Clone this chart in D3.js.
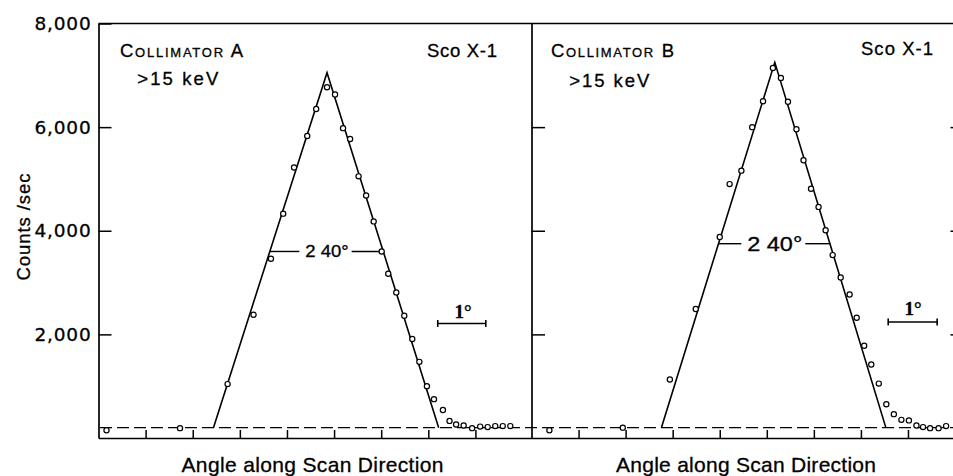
<!DOCTYPE html>
<html><head><meta charset="utf-8">
<script src="https://cdn.jsdelivr.net/npm/d3@7"></script>
<style>body{margin:0;background:#fff}svg{display:block}svg text{stroke:#000;stroke-width:0.3px}</style>
</head><body>
<script>
// ---------- data ----------
const countTicks = [2000, 4000, 6000, 8000];
const innerCountTicks = [2000, 4000, 6000];
const angleTicks = [1, 2, 3, 4, 5, 6, 7, 8];
const baselineCounts = 200;

// Collimator A (angle in degrees along scan, counts/sec)
const leftAngle  = [0.17,1.73,2.74,3.29,3.66,3.92,4.15,4.43,4.62,4.85,5.02,5.19,5.34,5.52,5.68,5.84,6.01,6.15,6.32,6.49,6.66,6.81,6.97,7.12,7.31,7.45,7.59,7.75,7.93,8.10,8.26,8.42,8.58,8.74];
const leftCounts = [150,190,1040,2380,3460,4330,5220,5830,6350,6770,6630,5980,5770,5050,4680,4180,3600,3170,2810,2360,1910,1470,1000,750,540,330,260,240,190,220,210,230,230,230];

// Collimator B
const rightAngle  = [0.38,1.94,2.94,3.49,4.00,4.21,4.46,4.69,4.92,5.13,5.30,5.45,5.63,5.78,5.94,6.10,6.25,6.40,6.57,6.76,6.91,7.07,7.22,7.38,7.54,7.70,7.86,8.02,8.18,8.32,8.47,8.65,8.81];
const rightCounts = [150,200,1130,2490,3880,4900,5160,6000,6500,7140,6950,6490,5960,5360,4810,4460,4010,3530,3100,2770,2320,1780,1420,1050,650,460,350,340,240,210,190,190,230];

// fitted triangular responses
const leftFitAngle   = [2.44, 4.85, 7.22];
const leftFitCounts  = [200, 7050, 200];
const rightFitAngle  = [2.76, 5.17, 7.53];
const rightFitCounts = [200, 7250, 200];

// FWHM annotations
const halfMaxCounts = [3600, 3750];
const halfMaxFrom   = [3.64, 3.97];
const halfMaxTo     = [6.04, 6.33];
const halfMaxLabel  = "2 40°";

// 1-degree scale bars
const scaleBarFrom   = [7.20, 7.58];
const scaleBarTo     = [8.22, 8.62];
const scaleBarCounts = [2210, 2240];
const scaleBarLabel  = "1°";

const panelTitles = ["Collimator A", "Collimator B"];
const energyLabel = ">15 keV";
const sourceLabel = "Sco X-1";
const xTitle = "Angle along Scan Direction";
const yTitle = "Counts /sec";

// ---------- layout ----------
const W = 953, H = 476;
const svg = d3.select("body").append("svg").attr("width", W).attr("height", H)
  .style("font-family", "'Liberation Sans', Arial, sans-serif");

const y = d3.scaleLinear([0, 8000], [438, 23.5]);
const xL = d3.scaleLinear([0, 9.19], [98.5, 531.5]);
const xR = d3.scaleLinear([0, 9.01], [531.5, 955.5]);

const axisStyle = g => {
  g.selectAll("path.domain").attr("stroke", "#000").attr("stroke-width", 1.7);
  g.selectAll(".tick line").attr("stroke", "#000").attr("stroke-width", 1.5);
};

// top border
svg.append("line").attr("x1", 98.5).attr("x2", W).attr("y1", y(8000)).attr("y2", y(8000))
  .attr("stroke", "#000").attr("stroke-width", 1.7);

// left y axis
svg.append("g").attr("transform", "translate(98.5,0)")
  .call(d3.axisLeft(y).tickValues(countTicks).tickSize(-13).tickSizeOuter(0).tickPadding(7).tickFormat(d3.format(",")))
  .call(axisStyle)
  .call(g => g.selectAll("text").attr("fill", "#000").attr("font-size", 18.5)
      .attr("font-family", "'DejaVu Sans', sans-serif").attr("letter-spacing", 0.8));

// divider axis
svg.append("g").attr("transform", "translate(531.5,0)")
  .call(d3.axisRight(y).tickValues(innerCountTicks).tickSize(13.5).tickSizeOuter(0).tickFormat(""))
  .call(axisStyle);

// right edge axis (mostly outside frame)
svg.append("g").attr("transform", "translate(955.5,0)")
  .call(d3.axisLeft(y).tickValues(innerCountTicks).tickSize(5).tickSizeOuter(0).tickFormat(""))
  .call(axisStyle);

// bottom axes
[xL, xR].forEach(x => {
  svg.append("g").attr("transform", "translate(0,438)")
    .call(d3.axisBottom(x).tickValues(angleTicks).tickSize(-8).tickSizeOuter(0).tickFormat(""))
    .call(axisStyle);
});

// baseline dashed
svg.append("line").attr("x1", 100).attr("x2", W).attr("y1", y(baselineCounts)).attr("y2", y(baselineCounts))
  .attr("stroke", "#000").attr("stroke-width", 1.4).attr("stroke-dasharray", "12,5");

const panels = [
  {x: xL, ang: leftAngle, cnt: leftCounts, fa: leftFitAngle, fc: leftFitCounts, i: 0,
   title: [120, 57.3, 123], energy: [137.3, 85, 81], source: [427, 57, 70],
   half: 16.5, halfW: 43.3, bar: [463, 318], xt: [312.5, 472.3, 262]},
  {x: xR, ang: rightAngle, cnt: rightCounts, fa: rightFitAngle, fc: rightFitCounts, i: 1,
   title: [551, 57, 123], energy: [569.3, 87, 80], source: [861, 55, 72],
   half: 19.5, halfW: 55, bar: [913, 315], xt: [746, 472.3, 260]}
];

const line = d3.line();

panels.forEach(p => {
  const x = p.x, i = p.i;
  // fit
  svg.append("path")
    .attr("d", line(p.fa.map((a, k) => [x(a), y(p.fc[k])])))
    .attr("fill", "none").attr("stroke", "#000").attr("stroke-width", 1.6);

  // half-max annotation
  const peakA = p.fa[1];
  const hy = y(halfMaxCounts[i]);
  svg.append("text").attr("x", x(peakA)).attr("y", hy + p.half * 0.36)
    .attr("text-anchor", "middle").attr("font-size", p.half)
    .attr("textLength", p.halfW).attr("lengthAdjust", "spacingAndGlyphs")
    .text(halfMaxLabel);
  const tStart = x(peakA) - p.halfW / 2, tEnd = x(peakA) + p.halfW / 2;
  svg.append("line").attr("x1", x(halfMaxFrom[i])).attr("x2", tStart - 6).attr("y1", hy).attr("y2", hy)
    .attr("stroke", "#000").attr("stroke-width", 1.4);
  svg.append("line").attr("x1", tEnd + 3).attr("x2", x(halfMaxTo[i])).attr("y1", hy).attr("y2", hy)
    .attr("stroke", "#000").attr("stroke-width", 1.4);

  // points
  svg.append("g").selectAll("circle").data(p.ang).join("circle")
    .attr("cx", d => x(d)).attr("cy", (d, k) => y(p.cnt[k])).attr("r", 2.6)
    .attr("fill", "#fff").attr("stroke", "#000").attr("stroke-width", 1.2);

  // scale bar
  const by = y(scaleBarCounts[i]);
  const bx1 = x(scaleBarFrom[i]), bx2 = x(scaleBarTo[i]);
  const bar = svg.append("g").attr("stroke", "#000").attr("stroke-width", 1.6);
  bar.append("line").attr("x1", bx1).attr("x2", bx2).attr("y1", by).attr("y2", by);
  bar.append("line").attr("x1", bx1).attr("x2", bx1).attr("y1", by - 3.5).attr("y2", by + 3.5);
  bar.append("line").attr("x1", bx2).attr("x2", bx2).attr("y1", by - 3.5).attr("y2", by + 3.5);
  svg.append("text").attr("x", p.bar[0]).attr("y", p.bar[1]).attr("text-anchor", "middle")
    .attr("font-family", "'Liberation Serif', 'Times New Roman', serif").attr("font-size", 19)
    .attr("font-weight", "bold").text(scaleBarLabel);

  // titles
  svg.append("text").attr("x", p.title[0]).attr("y", p.title[1]).attr("font-size", 18.5)
    .style("font-variant", "small-caps").attr("textLength", p.title[2]).attr("lengthAdjust", "spacing")
    .text(panelTitles[i]);
  svg.append("text").attr("x", p.energy[0]).attr("y", p.energy[1]).attr("font-size", 18.5)
    .attr("textLength", p.energy[2]).attr("lengthAdjust", "spacing").text(energyLabel);
  svg.append("text").attr("x", p.source[0]).attr("y", p.source[1]).attr("font-size", 18.5)
    .attr("textLength", p.source[2]).attr("lengthAdjust", "spacing").text(sourceLabel);

  // x title
  svg.append("text").attr("x", p.xt[0]).attr("y", p.xt[1]).attr("text-anchor", "middle")
    .attr("font-size", 21).attr("textLength", p.xt[2]).attr("lengthAdjust", "spacing").text(xTitle);
});

// y title
svg.append("text").attr("transform", "translate(30,227) rotate(-90)").attr("text-anchor", "middle")
  .attr("font-size", 18.5).attr("textLength", 107).attr("lengthAdjust", "spacing").text(yTitle);
</script>
</body></html>
